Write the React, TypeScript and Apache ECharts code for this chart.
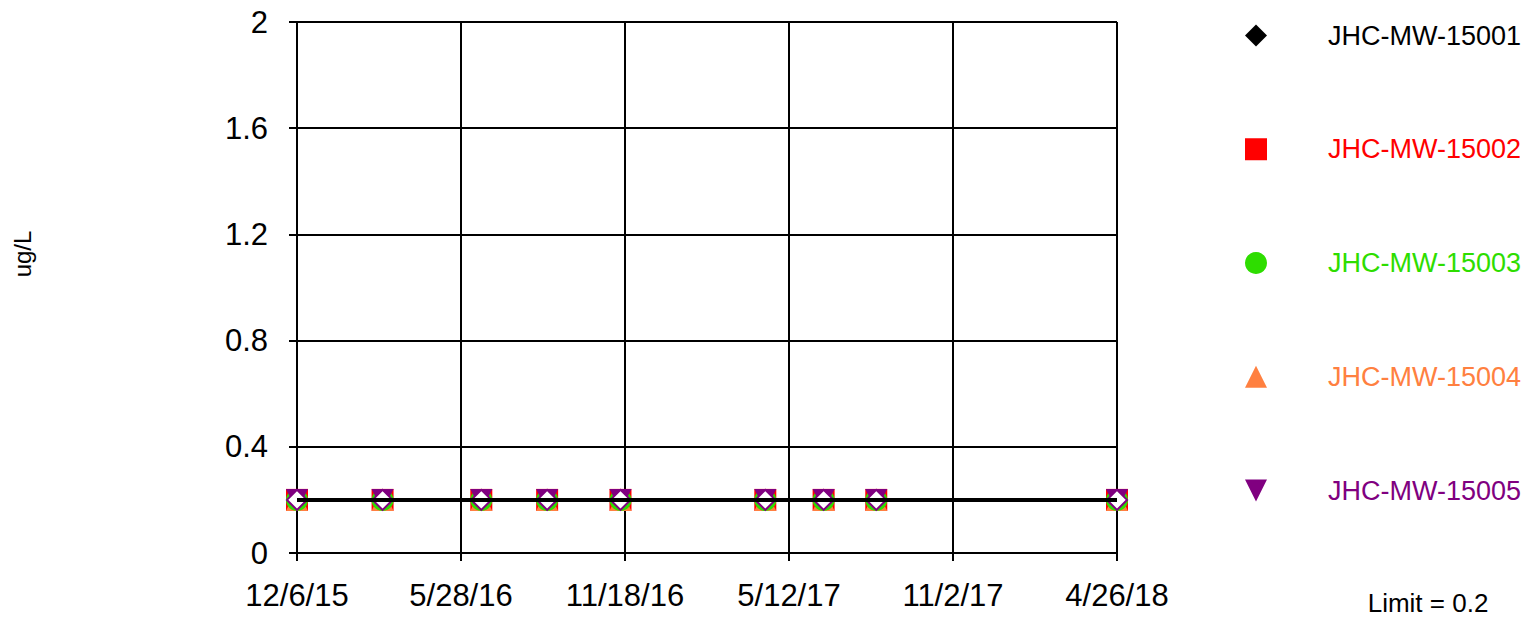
import React, { useEffect, useRef } from "react";
import * as echarts from "echarts";

const startDate = "2015-12-06";
const endDate = "2018-04-26";
const tickCount = 5;

const sampleDates = [
  "2015-12-06",
  "2016-03-06",
  "2016-06-19",
  "2016-08-28",
  "2016-11-14",
  "2017-04-17",
  "2017-06-18",
  "2017-08-13",
  "2018-04-26",
];

const seriesNames = ["JHC-MW-15001", "JHC-MW-15002", "JHC-MW-15003", "JHC-MW-15004", "JHC-MW-15005"];
const seriesColors = ["#000000", "#FF0000", "#2EDD00", "#FF8040", "#800080"];
const v15001 = [0.2, 0.2, 0.2, 0.2, 0.2, 0.2, 0.2, 0.2, 0.2];
const v15002 = [0.2, 0.2, 0.2, 0.2, 0.2, 0.2, 0.2, 0.2, 0.2];
const v15003 = [0.2, 0.2, 0.2, 0.2, 0.2, 0.2, 0.2, 0.2, 0.2];
const v15004 = [0.2, 0.2, 0.2, 0.2, 0.2, 0.2, 0.2, 0.2, 0.2];
const v15005 = [0.2, 0.2, 0.2, 0.2, 0.2, 0.2, 0.2, 0.2, 0.2];
const limitValue = 0.2;

const DAY = 86400000;
const t0 = Date.parse(startDate + "T00:00:00Z");
const toDays = (s: string) => Math.round((Date.parse(s + "T00:00:00Z") - t0) / DAY);
const fmt = (v: number) => {
  const d = new Date(t0 + Math.floor(v + 1e-6) * DAY);
  return `${d.getUTCMonth() + 1}/${d.getUTCDate()}/${String(d.getUTCFullYear()).slice(2)}`;
};

const FONT = "'Liberation Sans', Arial, sans-serif";
const downTri = "path://M0,0L10,0L5,10Z";

export default function App() {
  const ref = useRef<HTMLDivElement>(null);
  useEffect(() => {
    if (!ref.current) return;
    const chart = echarts.init(ref.current, null, { renderer: "svg" });
    const xs = sampleDates.map(toDays);
    const mk = (vals: number[]) => vals.map((v, i) => [xs[i], v]);
    const maxDays = toDays(endDate);

    const scatter = (idx: number, vals: number[], symbol: string, extra: any = {}) => ({
      name: seriesNames[idx],
      type: "scatter",
      data: mk(vals),
      symbol,
      symbolSize: 22,
      itemStyle: { color: seriesColors[idx], opacity: 1 },
      emphasis: { disabled: true },
      ...extra,
    });

    chart.setOption({
      animation: false,
      textStyle: { fontFamily: FONT },
      grid: { left: 297, right: 416, top: 22, bottom: 64 },
      xAxis: {
        type: "value",
        min: 0,
        max: maxDays,
        interval: maxDays / tickCount,
        axisLine: { show: true, onZero: false, lineStyle: { color: "#000", width: 2 } },
        axisTick: { show: true, length: 8, lineStyle: { color: "#000", width: 2 } },
        axisLabel: { formatter: fmt, color: "#000", fontSize: 31, margin: 27, fontFamily: FONT },
        splitLine: { show: true, lineStyle: { color: "#000", width: 2 } },
      },
      yAxis: {
        type: "value",
        min: 0,
        max: 2,
        interval: 0.4,
        axisLine: { show: true, lineStyle: { color: "#000", width: 2 } },
        axisTick: { show: true, length: 8, lineStyle: { color: "#000", width: 2 } },
        axisLabel: { color: "#000", fontSize: 31, margin: 29, fontFamily: FONT, formatter: (v: number) => String(Math.round(v * 10) / 10) },
        splitLine: { show: true, lineStyle: { color: "#000", width: 2 } },
      },
      legend: {
        orient: "vertical",
        left: 1240,
        top: 17,
        itemWidth: 22,
        itemHeight: 22,
        itemGap: 86.75,
        selectedMode: false,
        textStyle: { fontSize: 27, lineHeight: 22, fontFamily: FONT, padding: [0, 0, 0, 56] },
        data: seriesNames.map((n, i) => ({
          name: n,
          icon: ["diamond", "rect", "circle", "triangle", downTri][i],
          itemStyle: { color: seriesColors[i], borderWidth: 0 },
          textStyle: { color: seriesColors[i] },
        })),
      },
      series: [
        scatter(1, v15002, "rect"),
        scatter(3, v15004, "triangle"),
        scatter(2, v15003, "circle"),
        scatter(4, v15005, downTri),
        scatter(0, v15001, "diamond", {
          symbolSize: 20,
          itemStyle: { color: "#FFFFFF", borderColor: "#800080", borderWidth: 2, opacity: 1 },
        }),
        {
          name: "Limit",
          type: "line",
          data: [[0, limitValue], [maxDays, limitValue]],
          symbol: "none",
          lineStyle: { color: "#000", width: 4 },
          z: 5,
          silent: true,
        },
      ],
      graphic: [
        {
          type: "text",
          x: 22.5,
          y: 254,
          rotation: Math.PI / 2,
          style: { text: "ug/L", fontSize: 24, fontFamily: FONT, fill: "#000", align: "center", verticalAlign: "middle" },
        },
        {
          type: "text",
          x: 1428,
          y: 603,
          style: { text: `Limit = ${limitValue}`, fontSize: 26, fontFamily: FONT, fill: "#000", align: "center", verticalAlign: "middle" },
        },
      ],
    });
    return () => chart.dispose();
  }, []);
  return <div ref={ref} style={{ width: 1533, height: 617, position: "absolute", left: 0, top: 0 }} />;
}
